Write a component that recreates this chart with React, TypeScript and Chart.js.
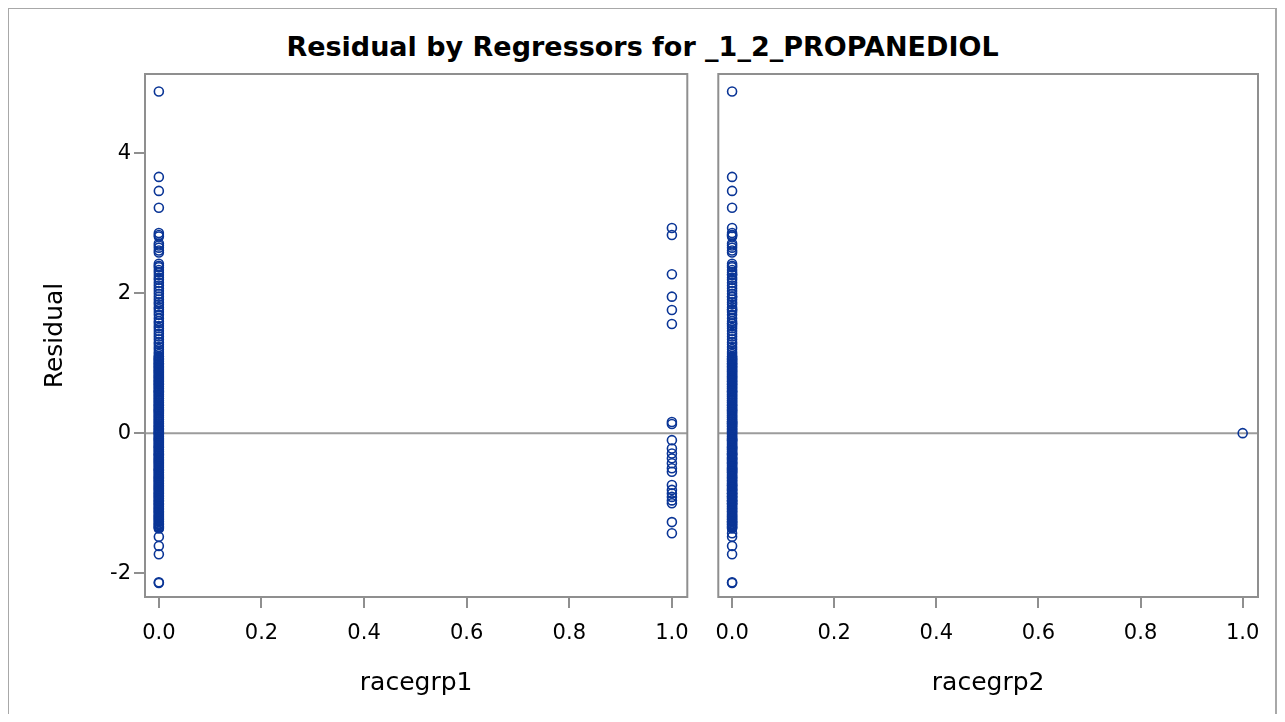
import React, { useEffect, useRef } from "react";
import { Chart, registerables } from "chart.js";

Chart.register(...registerables);

const residualsNeither: number[] = [
  4.88, 3.66, 3.46, 3.22,
  2.86, 2.83, 2.81, 2.71, 2.68, 2.65, 2.61, 2.58,
  2.42, 2.39, 2.37, 2.33, 2.3, 2.26, 2.22, 2.19, 2.15, 2.11, 2.07, 2.03,
  1.99, 1.95, 1.91, 1.87, 1.84, 1.8, 1.77, 1.73, 1.69, 1.64, 1.6, 1.57,
  1.53, 1.5, 1.46, 1.42, 1.38, 1.34, 1.3, 1.27, 1.23, 1.2, 1.16, 1.13,
  1.1, 1.07, 1.05, 1.02, 0.99, 0.96, 0.94, 0.91, 0.88, 0.85, 0.82, 0.8,
  0.77, 0.74, 0.71, 0.69, 0.66, 0.63, 0.6, 0.58, 0.55, 0.52, 0.5, 0.47,
  0.44, 0.41, 0.39, 0.36, 0.33, 0.31, 0.28, 0.25, 0.22, 0.2, 0.17, 0.14,
  0.11, 0.09, 0.06, 0.03, 0.01, -0.02, -0.05, -0.08, -0.1, -0.13, -0.16,
  -0.19, -0.21, -0.24, -0.27, -0.3, -0.32, -0.35, -0.38, -0.41, -0.43,
  -0.46, -0.49, -0.52, -0.54, -0.57, -0.6, -0.63, -0.65, -0.68, -0.71,
  -0.74, -0.76, -0.79, -0.82, -0.85, -0.87, -0.9, -0.93, -0.96, -0.98,
  -1.01, -1.04, -1.07, -1.09, -1.12, -1.15, -1.18, -1.2, -1.23, -1.26,
  -1.29, -1.31, -1.34, -1.36,
  1.09, 1.06, 1.03, 1.0, 0.98, 0.95, 0.92, 0.89, 0.87, 0.84, 0.81, 0.78,
  0.75, 0.73, 0.7, 0.67, 0.64, 0.61, 0.59, 0.56, 0.53, 0.49, 0.46, 0.43,
  0.4, 0.37, 0.34, 0.32, 0.29, 0.26, 0.23, 0.19, 0.16, 0.13, 0.1, 0.07,
  0.05, 0.02, -0.01, -0.04, -0.07, -0.09, -0.12, -0.15, -0.18, -0.2,
  -0.23, -0.26, -0.29, -0.31, -0.34, -0.37, -0.39, -0.42, -0.45, -0.48,
  -0.51, -0.53, -0.56, -0.59, -0.62, -0.64, -0.67, -0.69, -0.72, -0.75,
  -0.78, -0.8, -0.83, -0.86, -0.89, -0.91, -0.94, -0.97, -1.0, -1.02,
  -1.05, -1.08, -1.11, -1.13, -1.16, -1.19, -1.22, -1.24, -1.27, -1.3,
  -1.33, -1.35,
  -1.48, -1.61, -1.73, -2.13, -2.14,
];

// Residuals for observations with racegrp1 = 1
const residualsRace1: number[] = [
  2.93, 2.83, 2.27, 1.95, 1.76, 1.56, 0.16, 0.13, -0.1, -0.22, -0.29,
  -0.36, -0.43, -0.5, -0.55, -0.74, -0.81, -0.86, -0.91, -0.96, -1.0,
  -1.27, -1.43,
];

// Residuals for observations with racegrp2 = 1
const residualsRace2: number[] = [0.0];

const xTickValues = [0, 0.2, 0.4, 0.6, 0.8, 1.0];
const yTickValues = [-2, 0, 2, 4];
const panelTitles = ["racegrp1", "racegrp2"];
const chartTitle = "Residual by Regressors for _1_2_PROPANEDIOL";
const yAxisTitle = "Residual";

const X_MIN = -0.027;
const X_MAX = 1.03;
const Y_MIN = -2.34;
const Y_MAX = 5.13;

const FONT = "'DejaVu Sans', 'Open Sans', sans-serif";
const MARKER = "#0a3596";
const AXIS_GREY = "#8f8f8f";
const REF_GREY = "#9c9c9c";

const framePlugin = {
  id: "sasFrame",
  beforeDatasetsDraw(chart: any) {
    const { ctx, chartArea: a, scales } = chart;
    const y0 = scales.y.getPixelForValue(0);
    ctx.save();
    ctx.strokeStyle = REF_GREY;
    ctx.lineWidth = 2;
    ctx.beginPath();
    ctx.moveTo(a.left, y0);
    ctx.lineTo(a.right, y0);
    ctx.stroke();
    ctx.restore();
  },
  afterDraw(chart: any) {
    const { ctx, chartArea: a } = chart;
    ctx.save();
    ctx.strokeStyle = AXIS_GREY;
    ctx.lineWidth = 2;
    ctx.strokeRect(a.left, a.top, a.right - a.left, a.bottom - a.top);
    ctx.restore();
  },
};

function buildPoints(at0: number[][], at1: number[][]) {
  const pts: { x: number; y: number }[] = [];
  at0.forEach((arr) => arr.forEach((v) => pts.push({ x: 0, y: v })));
  at1.forEach((arr) => arr.forEach((v) => pts.push({ x: 1, y: v })));
  return pts;
}

function makeConfig(
  points: { x: number; y: number }[],
  xTitle: string,
  showY: boolean,
  padLeft: number,
  padRight: number
): any {
  return {
    type: "scatter",
    data: {
      datasets: [
        {
          data: points,
          pointStyle: "circle",
          pointRadius: 4.5,
          pointBorderWidth: 1.6,
          pointBorderColor: MARKER,
          pointBackgroundColor: "rgba(0,0,0,0)",
        },
      ],
    },
    plugins: [framePlugin],
    options: {
      animation: false,
      responsive: false,
      events: [],
      layout: { padding: { top: 66, left: padLeft, right: padRight, bottom: 0 } },
      plugins: { legend: { display: false }, tooltip: { enabled: false } },
      scales: {
        x: {
          type: "linear",
          min: X_MIN,
          max: X_MAX,
          afterFit: (s: any) => {
            s.height = 117;
          },
          afterBuildTicks: (s: any) => {
            s.ticks = xTickValues.map((v) => ({ value: v }));
          },
          grid: {
            display: true,
            drawOnChartArea: false,
            drawTicks: true,
            tickLength: 11,
            color: AXIS_GREY,
            lineWidth: 2,
          },
          border: { display: false },
          ticks: {
            color: "#000",
            padding: 13,
            maxRotation: 0,
            font: { family: FONT, size: 21 },
            callback: (v: any) => Number(v).toFixed(1),
          },
          title: {
            display: true,
            text: xTitle,
            color: "#000",
            font: { family: FONT, size: 25 },
            padding: { top: 0, bottom: 16 },
          },
        },
        y: {
          type: "linear",
          display: showY,
          min: Y_MIN,
          max: Y_MAX,
          afterFit: (s: any) => {
            s.width = showY ? 137 : 0;
          },
          afterBuildTicks: (s: any) => {
            s.ticks = yTickValues.map((v) => ({ value: v }));
          },
          grid: {
            display: true,
            drawOnChartArea: false,
            drawTicks: true,
            tickLength: 11,
            color: AXIS_GREY,
            lineWidth: 2,
          },
          border: { display: false },
          ticks: {
            color: "#000",
            padding: 3,
            font: { family: FONT, size: 21 },
            callback: (v: any) => String(v),
          },
          title: {
            display: true,
            text: yAxisTitle,
            color: "#000",
            font: { family: FONT, size: 25 },
            padding: { top: 32, bottom: 0 },
          },
        },
      },
    },
  };
}

export default function App() {
  const c1 = useRef<HTMLCanvasElement | null>(null);
  const c2 = useRef<HTMLCanvasElement | null>(null);

  useEffect(() => {
    document.body.style.overflow = "hidden";
    const p1 = buildPoints([residualsNeither, residualsRace2], [residualsRace1]);
    const p2 = buildPoints([residualsNeither, residualsRace1], [residualsRace2]);
    const ch1 = new Chart(c1.current as HTMLCanvasElement, makeConfig(p1, panelTitles[0], true, 0, 14));
    const ch2 = new Chart(c2.current as HTMLCanvasElement, makeConfig(p2, panelTitles[1], false, 15, 19));
    return () => {
      ch1.destroy();
      ch2.destroy();
    };
  }, []);

  return (
    <div style={{ position: "relative", width: 1269, height: 706 }}>
      <div
        style={{
          position: "absolute",
          left: -1,
          top: -1,
          width: 1270,
          height: 715,
          boxSizing: "border-box",
          border: "2px solid #a8a8a8",
          borderBottom: "none",
        }}
      />
      <div
        style={{
          position: "absolute",
          left: 0,
          top: 24,
          width: 1269,
          textAlign: "center",
          fontFamily: FONT,
          fontWeight: 700,
          fontSize: 27,
          lineHeight: "30px",
          color: "#000",
        }}
      >
        {chartTitle}
      </div>
      <canvas
        ref={c1}
        width={694}
        height={706}
        style={{ position: "absolute", left: 0, top: 0, width: 694, height: 706 }}
      />
      <canvas
        ref={c2}
        width={575}
        height={706}
        style={{ position: "absolute", left: 694, top: 0, width: 575, height: 706 }}
      />
    </div>
  );
}
